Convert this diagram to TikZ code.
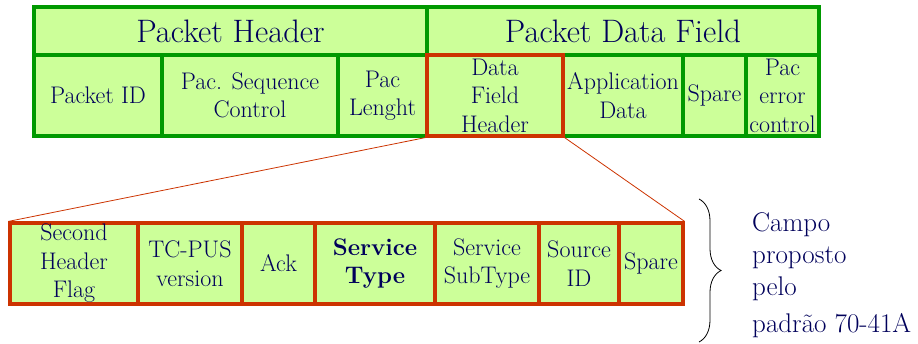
\documentclass[tikz,border=0pt]{standalone}
\usepackage{fontspec}
\usetikzlibrary{decorations.pathreplacing}
\definecolor{cellfill}{HTML}{CCFF99}
\definecolor{hdrgreen}{HTML}{009900}
\definecolor{hdrred}{HTML}{CC3300}
\definecolor{inkblue}{HTML}{00005A}

\begin{document}
\begin{tikzpicture}[x=1pt,y=-1pt,
  cell/.style={draw=hdrgreen,fill=cellfill,line width=3.2pt,inner sep=0pt,text=inkblue,
    align=center,font=\fontsize{24}{28.5}\selectfont,minimum height=81pt},
  redcell/.style={cell,draw=hdrred},
  bigcell/.style={cell,font=\fontsize{32.5}{38}\selectfont,minimum height=48pt}]
  \useasboundingbox (0,0) rectangle (918,343);
  % packet
  \node[bigcell,minimum width=393pt] (ph) at (230.5,31) {Packet Header};
  \node[bigcell,minimum width=392pt] (pdf) at (623,31) {Packet Data Field};
  \node[cell,minimum width=128pt] (pid) at (98,95.5) {Packet ID};
  \node[cell,minimum width=176pt] (psc) at (250,95.5) {Pac. Sequence\\Control};
  \node[cell,minimum width=89pt] (pl) at (382.5,95.5) {Pac\\Lenght};
  \node[cell,minimum width=120pt] (ad) at (623,95.5) {Application\\Data};
  \node[cell,minimum width=63pt] (sp) at (714.5,95.5) {Spare};
  \node[cell,minimum width=73pt] (pec) at (782.5,95.5) {Pac\\error\\control};
  \node[redcell,minimum width=136pt] (dfh) at (495,95.5) {Data\\Field\\Header};
  % data field header
  \node[redcell,minimum width=128pt] (shf) at (74,263.5) {Second\\Header\\Flag};
  \node[redcell,minimum width=104pt] (tcv) at (190,263.5) {TC-PUS\\version};
  \node[redcell,minimum width=73pt] (ack) at (278.5,263.5) {Ack};
  \node[redcell,minimum width=120pt] (st) at (375,263.5) {\textbf{Service}\\\textbf{Type}};
  \node[redcell,minimum width=104pt] (sst) at (487,263.5) {Service\\SubType};
  \node[redcell,minimum width=80pt] (sid) at (579,263.5) {Source\\ID};
  \node[redcell,minimum width=64pt] (spb) at (651,263.5) {Spare};
  \draw[hdrred,line width=0.8pt] (dfh.south west) -- (shf.north west)
    (dfh.south east) -- (spb.north east);
  % brace
  \coordinate (bt) at (699,199);
  \coordinate (bb) at (699,342);
  \draw[decorate,decoration={brace,amplitude=22pt},line width=0.8pt] (bt) -- (bb);
  \node[anchor=north west,inner sep=0pt,align=left,text=inkblue,
    font=\fontsize{27}{32}\selectfont] (cp) at (752,212)
    {Campo\\proposto\\pelo\\[5pt]padrão 70-41A};
\end{tikzpicture}
\end{document}
